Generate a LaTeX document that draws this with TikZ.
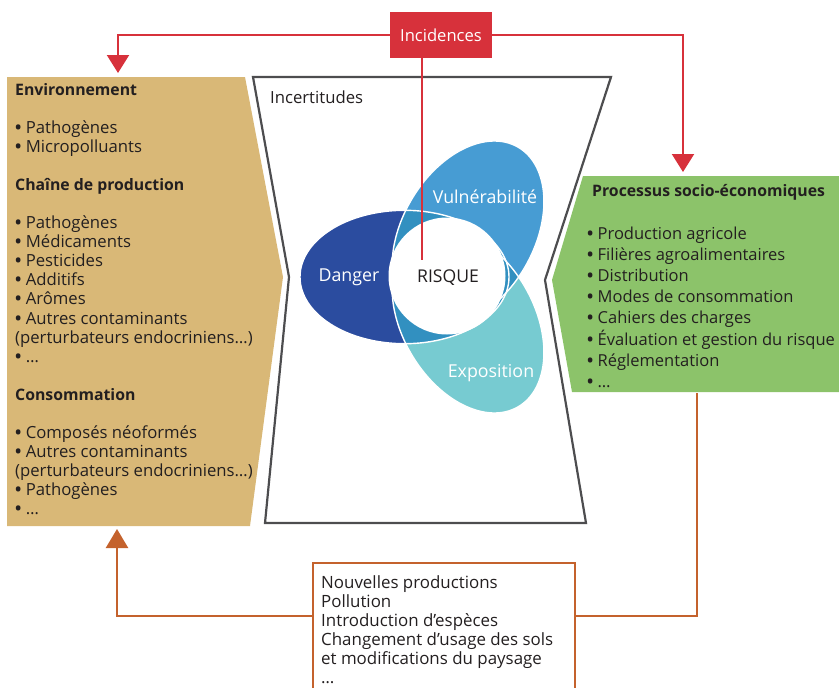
\documentclass[tikz,border=0pt]{standalone}
\usepackage{fontspec}
\setmainfont{Open Sans}
\usetikzlibrary{arrows.meta}
\definecolor{cTan}{HTML}{D9B877}
\definecolor{cGreen}{HTML}{8CC36A}
\definecolor{cRed}{HTML}{D7313B}
\definecolor{cOrange}{HTML}{C4622D}
\definecolor{cFrame}{HTML}{4D4D4F}
\definecolor{cDanger}{HTML}{2B4C9F}
\definecolor{cVuln}{HTML}{479CD3}
\definecolor{cExpo}{HTML}{77CBD1}
\definecolor{cMid}{HTML}{3290C0}
\definecolor{cText}{HTML}{231F20}
\newcommand{\bul}{\textbf{•}}
\newcommand{\hdr}[1]{{\fontsize{15.8}{19}\selectfont\textbf{#1}}}
\begin{document}
\begin{tikzpicture}[x=1pt,y=-1pt,
  txt/.style={inner sep=0pt, text=cText, align=left, font=\fontsize{16.7}{19.05}\selectfont},
  rtxt/.style={inner sep=0pt, text=cText, align=left, font=\fontsize{16.5}{21.2}\selectfont},
  btxt/.style={inner sep=0pt, text=cText, align=left, font=\fontsize{16.9}{19}\selectfont},
  lbl/.style={inner sep=0pt, text=white, font=\fontsize{17.8}{20}\selectfont},
  redline/.style={draw=cRed, line width=2.2pt},
  redarrow/.style={redline, -{Triangle[width=22pt,length=18pt]}},
  orangeline/.style={draw=cOrange, line width=2.6pt},
  orangearrow/.style={orangeline, -{Triangle[width=22pt,length=19pt]}},
  dpet/.style={x radius=104.5, y radius=66.7},
  vpet/.style={x radius=100, y radius=66},
  outl/.style={draw=white, line width=1.4pt}
]
\useasboundingbox (0,0) rectangle (839,688);

% side panels
\fill[cTan] (7,77) -- (245,77) -- (283,277) -- (250,526) -- (7,526) -- cycle;
\fill[cGreen] (583,176) -- (839,176) -- (839,392) -- (572,392) -- (552,280) -- cycle;

% hourglass
\draw[cFrame, line width=2.2pt, line join=miter] (253,77) -- (611,77) -- (545,280) -- (586,523) -- (265,523) -- (289,277) -- cycle;

% petals
\fill[cDanger] (404.5,277) ellipse [dpet];
\fill[cVuln, rotate around={60:(468,233.7)}] (468,233.7) ellipse [vpet];
\fill[cExpo, rotate around={-60:(468,320.3)}] (468,320.3) ellipse [vpet];
\begin{scope}
  \clip (404.5,277) ellipse [dpet];
  \fill[cMid, rotate around={60:(468,233.7)}] (468,233.7) ellipse [vpet];
  \fill[cMid, rotate around={-60:(468,320.3)}] (468,320.3) ellipse [vpet];
\end{scope}
\begin{scope}
  \clip[rotate around={60:(468,233.7)}] (468,233.7) ellipse [vpet];
  \fill[cMid, rotate around={-60:(468,320.3)}] (468,320.3) ellipse [vpet];
\end{scope}
\draw[outl] (404.5,277) ellipse [dpet];
\draw[outl, rotate around={60:(468,233.7)}] (468,233.7) ellipse [vpet];
\draw[outl, rotate around={-60:(468,320.3)}] (468,320.3) ellipse [vpet];
\fill[white] (447,276) circle [radius=58.5];

% texts in panels
\node[txt, anchor=base west] (env) at (15,514.5) {\hdr{Environnement}\\[19.05pt]
\bul{} Pathogènes\\
\bul{} Micropolluants\\[19.05pt]
\hdr{Chaîne de production}\\[19.05pt]
\bul{} Pathogènes\\
\bul{} Médicaments\\
\bul{} Pesticides\\
\bul{} Additifs\\
\bul{} Arômes\\
\bul{} Autres contaminants\\
(perturbateurs endocriniens…)\\
\bul{} …\\[19.05pt]
\hdr{Consommation}\\[19.05pt]
\bul{} Composés néoformés\\
\bul{} Autres contaminants\\
(perturbateurs endocriniens…)\\
\bul{} Pathogènes\\
\bul{} …};

\node[rtxt, anchor=base west] (soc) at (587,387.5) {\hspace{5pt}\hdr{Processus socio-économiques}\\[21.2pt]
\bul{} Production agricole\\
\bul{} Filières agroalimentaires\\
\bul{} Distribution\\
\bul{} Modes de consommation\\
\bul{} Cahiers des charges\\
\bul{} Évaluation et gestion du risque\\
\bul{} Réglementation\\
\bul{} …};

\node[txt, anchor=west] (unc) at (270,97) {Incertitudes};

% labels
\node[lbl] (dan) at (349,277) {Danger};
\node[lbl] (vul) at (485,197) {Vulnérabilité};
\node[lbl] (exp) at (491,373) {Exposition};
\coordinate (riskin) at (422,260);

% Incidences
\node[fill=cRed, text=white, minimum width=102pt, minimum height=46pt, inner sep=0pt, font=\fontsize{16.6}{19}\selectfont] (inc) at (441,35) {Incidences};
\draw[redline] (riskin |- inc.south) -- (riskin);
\node[inner sep=0pt, text=cText, font=\fontsize{17.6}{19}\selectfont] (risk) at (448,278) {RISQUE};

\coordinate (envtop) at (118,73);
\coordinate (soctop) at (683,172);
\draw[redarrow] (inc.west) -| (envtop);
\draw[redarrow] (inc.east) -| (soctop);

% bottom box
\draw[cOrange, line width=2.6pt] (313,700) -- (313,563) -- (575,563) -- (575,700);
\coordinate (impW) at (313,616);
\coordinate (impE) at (575,616);
\node[btxt, anchor=base west] (imp) at (321,683) {Nouvelles productions\\
Pollution\\
Introduction d’espèces\\
Changement d'usage des sols\\
et modifications du paysage\\
…};
\coordinate (consbot) at (117,529);
\coordinate (socbot) at (697,393);
\draw[orangearrow] (impW) -| (consbot);
\draw[orangeline] (impE) -| (socbot);
\end{tikzpicture}
\end{document}
